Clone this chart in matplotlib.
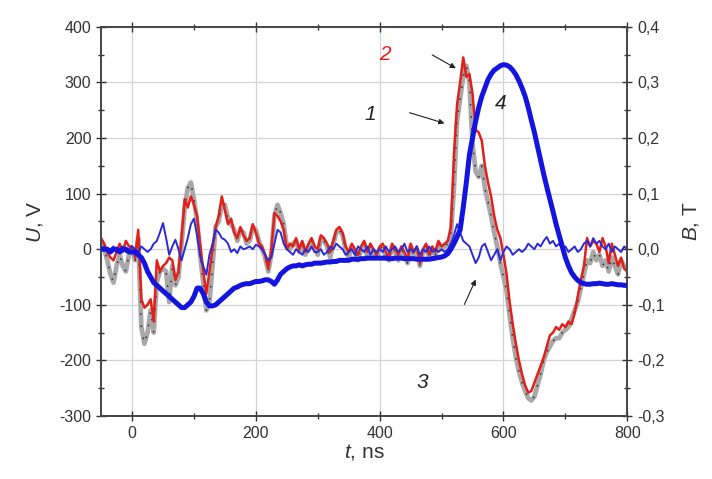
import numpy as np
import matplotlib.pyplot as plt
from matplotlib.ticker import MultipleLocator, FuncFormatter

plt.rcParams['font.family'] = ['Liberation Sans', 'DejaVu Sans']
plt.rcParams['mathtext.fontset'] = 'custom'
plt.rcParams['mathtext.it'] = 'Liberation Sans:italic'
plt.rcParams['mathtext.rm'] = 'Liberation Sans'
plt.rcParams['axes.unicode_minus'] = False

# time grid, ns (-50 .. 800, step 5)
t = np.arange(-50, 805, 5)

# curve 1, U (V) - gray
u1 = [10, 0, -20, -45, -60, -30, -10, -30, -40, -10,
      0, -20, 20, -140, -170, -150, -110, -150, -60, -40,
      -35, -40, -95, -30, -65, -50, 10, 75, 110, 120,
      90, 50, -10, -60, -110, -95, -30, 40, 50, 80,
      80, 55, 45, 35, 15, 35, 30, 10, 15, 40,
      35, 15, 0, -15, -40, -10, 60, 80, 65, 45,
      5, 0, 10, 15, -5, 10, -10, 5, 15, 0,
      -10, 20, 15, 5, -15, 10, 30, 35, 25, 0,
      -15, 5, -5, -20, 0, 10, -15, 5, -10, -15,
      0, 5, -15, -20, 5, -5, -20, 0, -10, -25,
      5, -10, 0, -30, -5, 5, -15, 0, -10, 10,
      0, 5, 10, 25, 110, 230, 270, 310, 330, 300,
      190, 140, 130, 150, 110, 85, 60, 30, 5, -25,
      -50, -75, -120, -160, -195, -220, -240, -255, -268, -272,
      -265, -245, -225, -200, -185, -175, -165, -160, -160, -150,
      -145, -140, -125, -110, -95, -70, -45, -20, -25, -5,
      -20, -10, -30, -20, -40, -15, -30, -45, -20, -30,
      -35]

# curve 2, U (V) - red
u2 = [20, 10, -5, -15, -20, -5, 10, -5, 15, 5,
      5, -15, 35, -90, -105, -100, -90, -130, -20, -40,
      -30, -25, -15, -20, -55, -40, 20, 90, 75, 95,
      80, 60, 10, -40, -80, -40, 0, 40, 60, 95,
      70, 45, 55, 30, 20, 40, 25, 15, 20, 45,
      30, 10, 5, -10, -35, 0, 65, 60, 50, 35,
      0, 10, 5, 20, 0, 15, -5, 10, 20, 5,
      0, 25, 20, 10, -5, 15, 35, 40, 30, 5,
      -5, 10, 0, -10, 5, 15, -5, 10, 0, -10,
      5, 10, -5, -15, 10, 0, -10, 5, -5, -20,
      10, -5, 5, -25, 0, 10, -10, 5, -5, 15,
      5, 10, 15, 40, 170, 260, 300, 345, 310, 315,
      280, 215, 210, 195, 150, 120, 95, 60, 35, 20,
      -10, -45, -95, -135, -170, -200, -225, -245, -258, -255,
      -240, -225, -210, -195, -175, -155, -150, -140, -145, -135,
      -140, -130, -135, -115, -85, -55, -30, 20, 5, 15,
      10, -5, 20, 5, -25, 10, -10, -30, -15, -35,
      -40]

# curve 3, U (V) - thin blue
u3 = [0, 5, -5, 0, 5, -5, 0, 5, -5, 0,
      5, 0, -5, 5, 0, -5, 0, 10, 15, 30,
      47, 20, -10, 5, 17, 0, -20, 0, 20, 45,
      55, 25, -13, -30, -46, -10, 10, 35, 30, 20,
      17, 10, -5, 0, -7, 5, 0, 2, 5, 0,
      8, 5, 0, -10, -20, -15, 10, 35, 30, 10,
      0, -5, -10, 0, -5, -10, 0, -5, 5, -5,
      -5, 0, -10, -5, 5, 0, 10, 5, 0, -10,
      -5, 0, -10, 5, 0, -5, 5, -10, 0, -5,
      0, -5, 5, -5, 0, 5, -5, 0, 10, -5,
      0, -5, 5, -10, 0, -5, 5, -5, 0, -5,
      0, -5, 0, 10, 25, 45, 30, 15, 10, 5,
      -10, -25, -15, 5, 10, -5, -20, -10, 0, -20,
      -5, 5, 0, -10, -5, 0, -5, 0, 10, 5,
      0, 10, 5, 15, 22, 10, 15, 5, 10, 0,
      5, -5, 0, 5, -5, 0, 10, 15, 5, 20,
      10, 15, 5, 0, 10, -5, 5, 0, -5, 5,
      0]

# curve 4, B (T) - thick blue
b4 = [0, 0, 0, -0.005, 0, 0, -0.005, 0, 0, -0.005,
      -0.005, -0.005, -0.01, -0.015, -0.025, -0.04, -0.05, -0.06, -0.065, -0.07,
      -0.075, -0.08, -0.085, -0.09, -0.095, -0.1, -0.105, -0.105, -0.1, -0.095,
      -0.085, -0.07, -0.07, -0.08, -0.095, -0.102, -0.102, -0.1, -0.095, -0.09,
      -0.085, -0.08, -0.075, -0.07, -0.068, -0.065, -0.063, -0.062, -0.062, -0.06,
      -0.058, -0.058, -0.057, -0.055, -0.055, -0.058, -0.063, -0.055, -0.045, -0.04,
      -0.035, -0.032, -0.03, -0.03, -0.028, -0.03, -0.028, -0.027, -0.027, -0.025,
      -0.025, -0.025, -0.024, -0.023, -0.023, -0.022, -0.022, -0.02, -0.02, -0.02,
      -0.02, -0.018, -0.018, -0.018, -0.017, -0.017, -0.016, -0.016, -0.016, -0.016,
      -0.016, -0.016, -0.016, -0.017, -0.017, -0.016, -0.016, -0.016, -0.017, -0.017,
      -0.017, -0.017, -0.018, -0.018, -0.018, -0.018, -0.018, -0.017, -0.016, -0.015,
      -0.014, -0.012, -0.008, 0.0, 0.01, 0.022, 0.035, 0.075, 0.12, 0.17,
      0.2, 0.23, 0.255, 0.275, 0.29, 0.305, 0.315, 0.322, 0.326, 0.33,
      0.332, 0.331, 0.328, 0.322, 0.314, 0.303, 0.29, 0.275, 0.255, 0.232,
      0.21, 0.185, 0.16, 0.135, 0.112, 0.09, 0.068, 0.045, 0.025, 0.005,
      -0.015, -0.03, -0.042, -0.05, -0.056, -0.06, -0.062, -0.063, -0.063, -0.062,
      -0.062, -0.061, -0.062, -0.063, -0.063, -0.062, -0.063, -0.064, -0.064, -0.065,
      -0.065]

fig = plt.figure(figsize=(7.12, 4.79), dpi=100)
ax = fig.add_axes([0.142, 0.1315, 0.739, 0.8125])

ax.plot(t, u1, color='#a8a8a8', lw=3.4, zorder=2)
ax.plot(t, u1, color='#303030', lw=1.1, ls=(0, (1, 7)), zorder=2.1)
ax.plot(t, u2, color='#e41f1a', lw=1.8, zorder=3)
ax.plot(t, u3, color='#2a2ad8', lw=1.4, zorder=4)

ax.set_xlim(-50, 800)
ax.set_ylim(-300, 400)
ax.xaxis.set_major_locator(MultipleLocator(200))
ax.xaxis.set_minor_locator(MultipleLocator(100))
ax.yaxis.set_major_locator(MultipleLocator(100))
ax.yaxis.set_minor_locator(MultipleLocator(50))
ax.grid(True, which='major', color='#d4d4d4', lw=0.9)
ax.set_axisbelow(True)
ax.tick_params(which='both', direction='inout', top=True, labelsize=11.5,
               colors='#333333', width=1)
ax.tick_params(which='major', length=7)
ax.tick_params(which='minor', length=4)
for s in ax.spines.values():
    s.set_color('#444444')
    s.set_linewidth(1.2)

ax.set_xlabel(r'$t$, ns', fontsize=15, color='#333333', labelpad=1)
ax.set_ylabel(r'$U$, V', fontsize=15, color='#333333', labelpad=10)

ax2 = ax.twinx()
ax2.plot(t, b4, color='#1414e0', lw=3.6, zorder=5)
ax2.set_ylim(-0.3, 0.4)
ax2.yaxis.set_major_locator(MultipleLocator(0.1))
ax2.yaxis.set_minor_locator(MultipleLocator(0.05))
ax2.yaxis.set_major_formatter(FuncFormatter(lambda v, p: f'{v:.1f}'.replace('.', ',')))
ax2.tick_params(which='both', direction='inout', labelsize=11.5, colors='#333333', width=1)
ax2.tick_params(which='major', length=7)
ax2.tick_params(which='minor', length=4)
for s in ax2.spines.values():
    s.set_color('#444444')
    s.set_linewidth(1.2)
ax2.set_ylabel(r'$B$, T', fontsize=15, color='#333333', labelpad=12)

# curve labels and arrows
arr = dict(arrowstyle='-|>', color='#222222', lw=0.8, mutation_scale=8)
ax.text(409, 350, '2', color='#e41f1a', fontsize=15, style='italic', ha='center', va='center')
ax.text(385, 242, '1', color='#222222', fontsize=15, style='italic', ha='center', va='center')
ax.text(596, 262, '4', color='#222222', fontsize=15, style='italic', ha='center', va='center')
ax.text(469, -240, '3', color='#222222', fontsize=15, style='italic', ha='center', va='center')
ax.annotate('', xy=(527, 323), xytext=(481, 352), arrowprops=arr)
ax.annotate('', xy=(509, 225), xytext=(444, 247), arrowprops=arr)
ax.annotate('', xy=(557, -50), xytext=(535, -104), arrowprops=arr)

fig.savefig('out.png', dpi=100)
